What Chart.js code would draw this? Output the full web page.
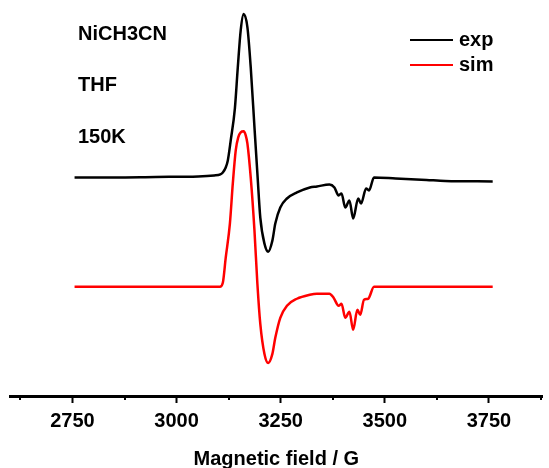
<!DOCTYPE html>
<html>
<head>
<meta charset="utf-8">
<script src="https://cdn.jsdelivr.net/npm/chart.js@4.4.1/dist/chart.umd.min.js"></script>
<style>
  html, body { margin: 0; padding: 0; background: #fff; }
  #wrap { width: 549px; height: 468px; }
</style>
</head>
<body>
<div id="wrap"><canvas id="epr" width="549" height="468"></canvas></div>
<script>
// field values (G) and signal (arbitrary units, offset as plotted)
const fieldExp = [2755, 2850, 2950, 3052, 3090, 3105, 3111, 3118, 3123, 3130, 3140, 3147, 3154, 3161, 3170, 3178, 3187, 3194, 3201, 3211, 3220, 3230, 3237, 3249, 3265, 3289, 3320, 3337, 3367, 3379, 3389, 3396, 3405, 3415, 3424, 3436, 3443, 3455, 3462, 3474, 3526, 3600, 3645, 3759];
const exp = [218, 218, 218.5, 219, 220, 221, 223, 228, 235, 255, 287, 328, 365, 381, 368, 328, 268, 222, 178, 152, 144, 155, 172, 188, 197, 203, 208, 209, 211, 208, 200, 202, 188, 195, 177, 197, 192, 207, 205, 218, 217, 215.5, 214.5, 214];

const fieldSim = [2755, 3052, 3104, 3111, 3118, 3128, 3135, 3142, 3148, 3154, 3161, 3166, 3170, 3178, 3187, 3194, 3201, 3211, 3220, 3230, 3237, 3249, 3265, 3289, 3320, 3337, 3367, 3377, 3389, 3396, 3405, 3415, 3424, 3434, 3441, 3450, 3460, 3474, 3526, 3759];
const sim = [109, 109, 109, 113, 138, 172, 212, 245, 258, 263, 264, 260, 252, 218, 165, 112, 72, 42, 33, 42, 58, 78, 90, 97, 101, 102, 102, 98, 90, 92, 78, 84, 66, 86, 81, 96, 97, 109, 109, 109];

const majorTicks = [2750, 3000, 3250, 3500, 3750];
const minorTicks = [2625, 2875, 3125, 3375, 3625, 3875];
const notes = ['NiCH3CN', 'THF', '150K'];

const FONT = '"Liberation Sans", Arial, sans-serif';
const toPts = (xs, ys) => xs.map((x, i) => ({ x, y: ys[i] }));

// minor ticks, sample notes and the line legend
const extras = {
  id: 'extras',
  afterDraw(chart) {
    const { ctx, chartArea, scales } = chart;
    ctx.save();
    ctx.strokeStyle = '#000';
    ctx.lineWidth = 2;
    minorTicks.forEach(v => {
      const px = Math.round(scales.x.getPixelForValue(v));
      ctx.beginPath();
      ctx.moveTo(px, chartArea.bottom);
      ctx.lineTo(px, chartArea.bottom + 4);
      ctx.stroke();
    });

    ctx.fillStyle = '#000';
    ctx.font = 'bold 20px ' + FONT;
    ctx.textBaseline = 'middle';
    ctx.textAlign = 'left';
    notes.forEach((t, i) => ctx.fillText(t, 78, [34, 85, 137][i]));

    chart.data.datasets.forEach((ds, i) => {
      const y = 40 + i * 25;
      ctx.strokeStyle = ds.borderColor;
      ctx.lineWidth = 2;
      ctx.beginPath();
      ctx.moveTo(410, y);
      ctx.lineTo(453, y);
      ctx.stroke();
      ctx.fillStyle = '#000';
      ctx.fillText(ds.label, 459, y);
    });
    ctx.restore();
  }
};

new Chart(document.getElementById('epr'), {
  type: 'line',
  data: {
    datasets: [
      { label: 'exp', data: toPts(fieldExp, exp), borderColor: '#000000', borderWidth: 2.5, pointRadius: 0, cubicInterpolationMode: 'monotone', fill: false },
      { label: 'sim', data: toPts(fieldSim, sim), borderColor: '#ff0000', borderWidth: 2.5, pointRadius: 0, cubicInterpolationMode: 'monotone', fill: false }
    ]
  },
  options: {
    responsive: false,
    animation: false,
    layout: { padding: { left: 10, right: 0, top: 0, bottom: 0 } },
    plugins: { legend: { display: false }, tooltip: { enabled: false } },
    scales: {
      x: {
        type: 'linear',
        min: 2600,
        max: 3879,
        afterBuildTicks: s => { s.ticks = [...majorTicks, ...minorTicks].sort((a, b) => a - b).map(v => ({ value: v })); },
        border: { display: true, color: '#000', width: 3 },
        grid: {
          drawOnChartArea: false,
          drawTicks: true,
          tickLength: 7,
          tickWidth: 2,
          tickColor: c => majorTicks.includes(c.tick.value) ? '#000' : 'rgba(0,0,0,0)'
        },
        ticks: {
          autoSkip: false,
          maxRotation: 0,
          padding: 8,
          color: '#000',
          font: { family: FONT, size: 20, weight: 'bold', lineHeight: 1 },
          callback: v => majorTicks.includes(v) ? String(v) : ''
        },
        title: {
          display: true,
          text: 'Magnetic field / G',
          color: '#000',
          font: { family: FONT, size: 20, weight: 'bold', lineHeight: 0.9 },
          padding: { top: 11, bottom: 0 }
        }
      },
      y: { display: false, min: 0, max: 395 }
    }
  },
  plugins: [extras]
});
</script>
</body>
</html>
